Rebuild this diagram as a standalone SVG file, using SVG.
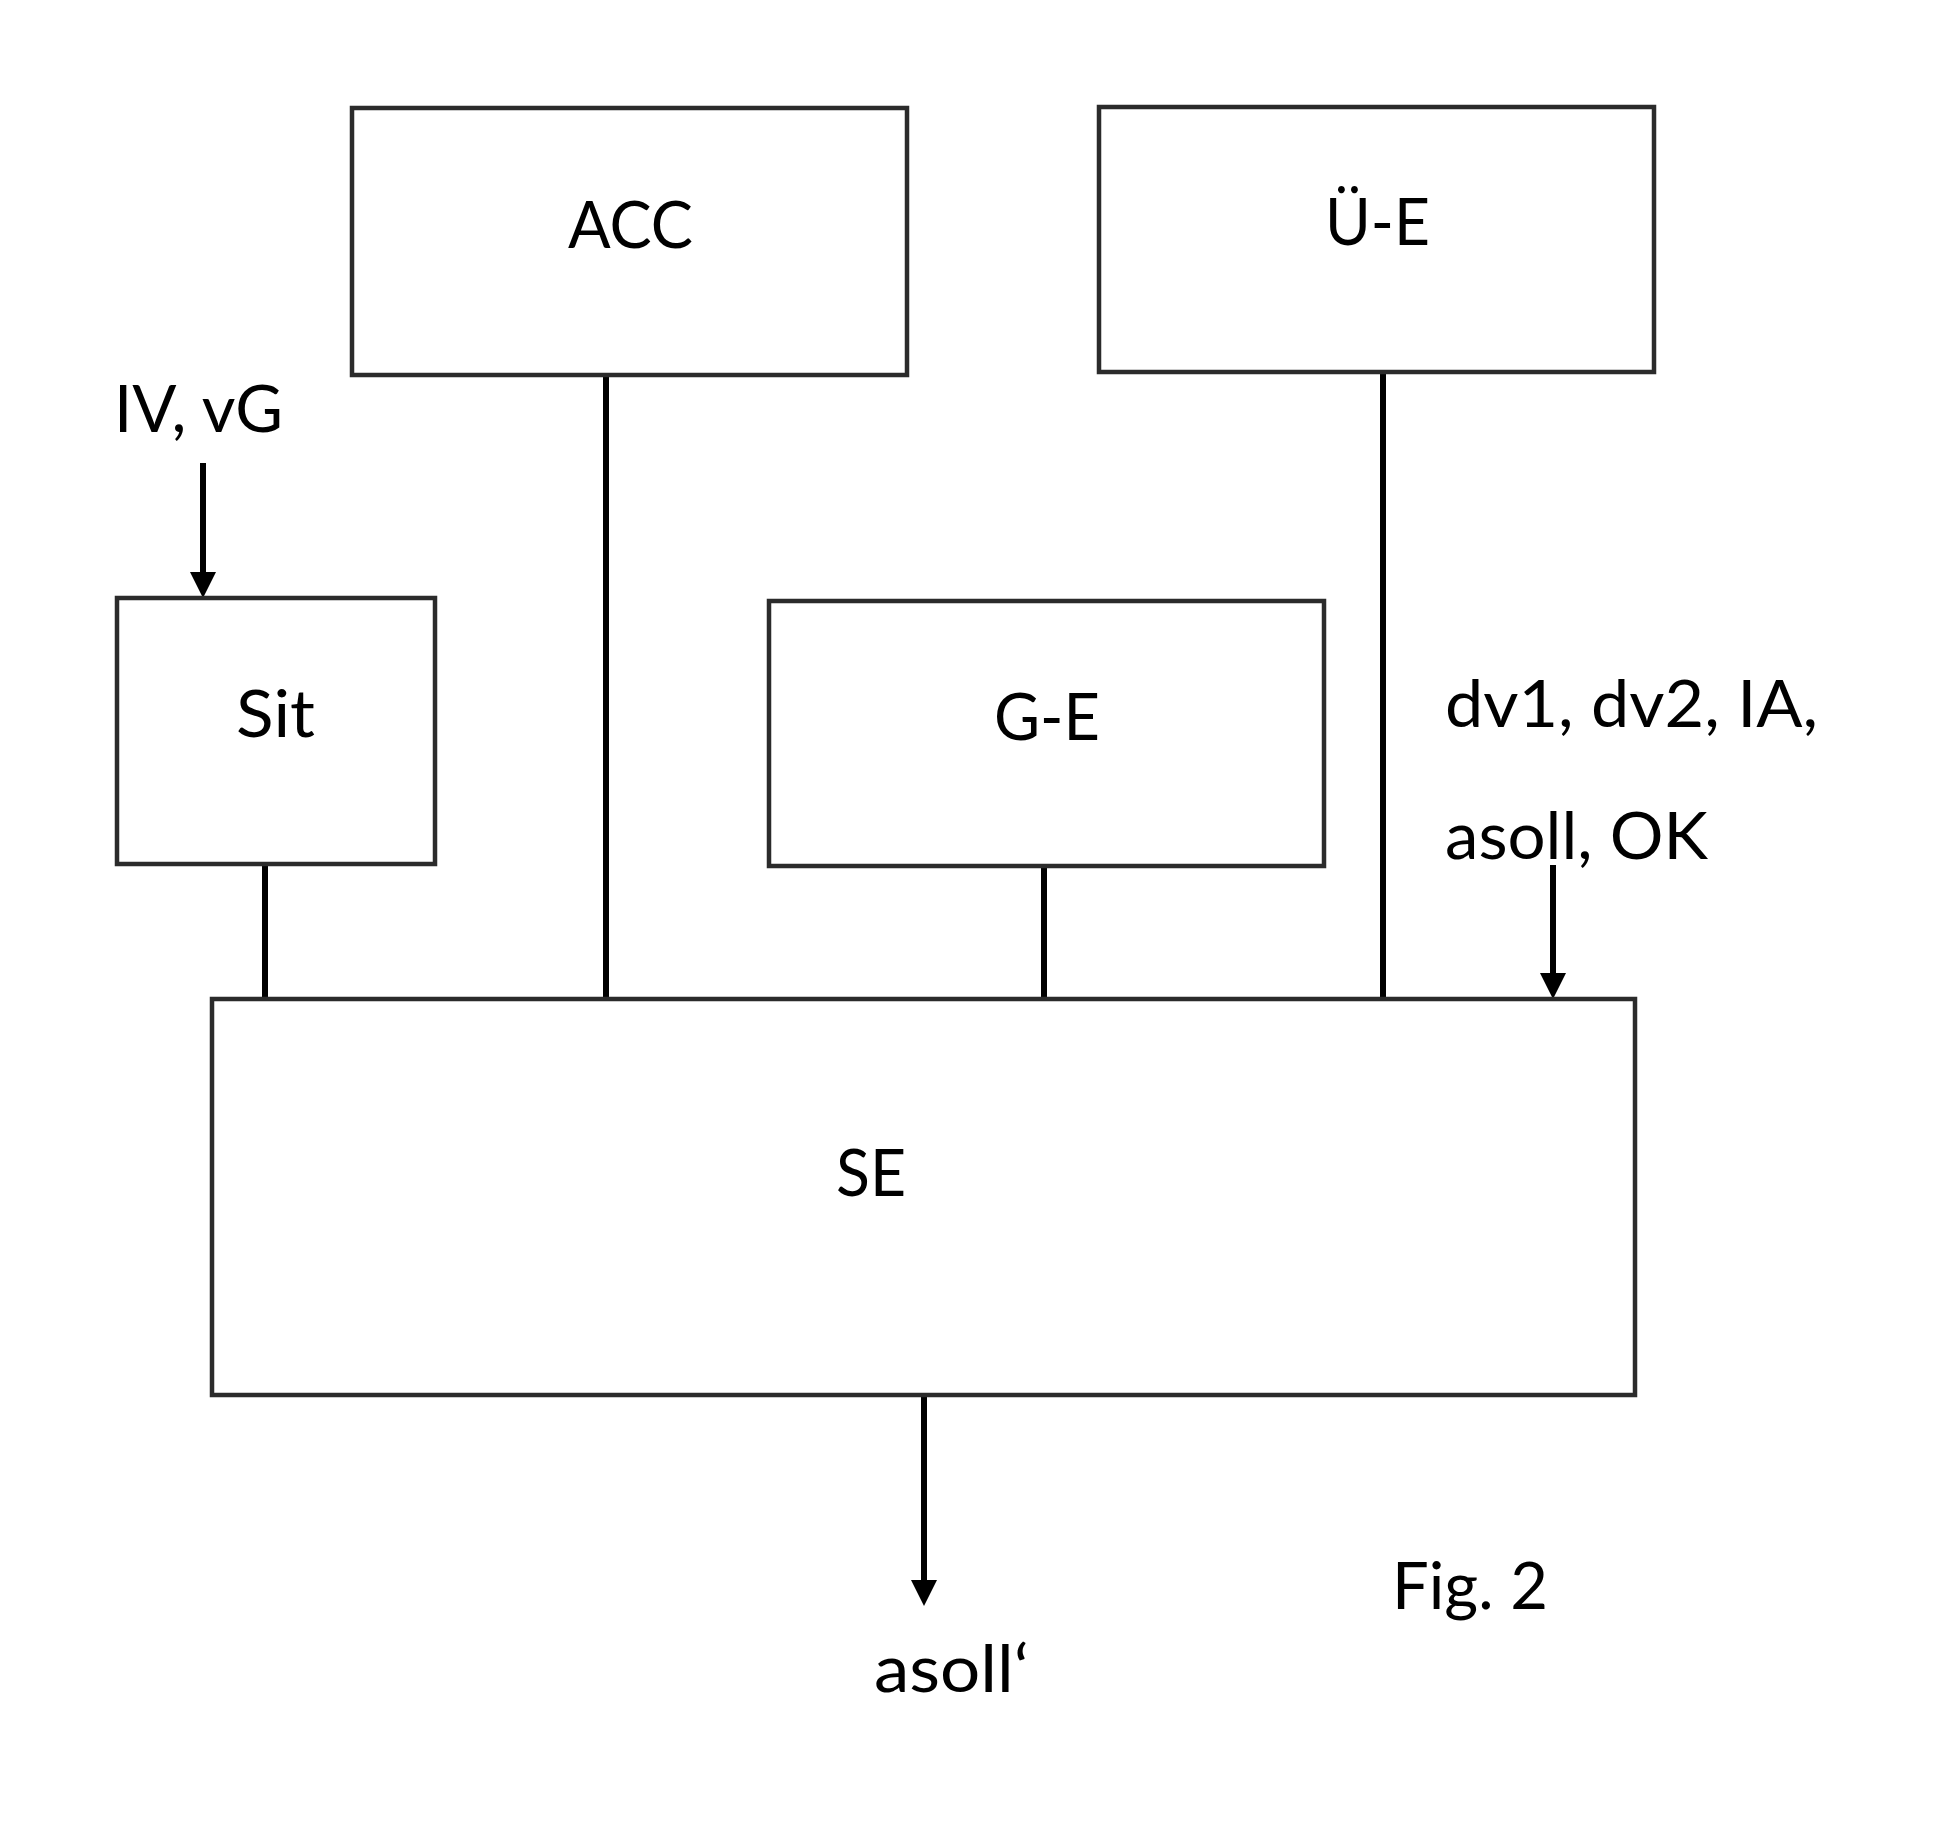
<svg xmlns="http://www.w3.org/2000/svg" width="1958" height="1844" viewBox="0 0 1958 1844">
<style>
.box{fill:#fff;stroke:#2b2b2b;stroke-width:4.5}
.ln{stroke:#000;stroke-width:6;fill:none}
.t{font-family:Lato,"Open Sans","Liberation Sans",sans-serif;font-size:66px;fill:#000}
</style>
<defs>
<marker id="ah" markerUnits="userSpaceOnUse" markerWidth="26" markerHeight="26" refX="6" refY="13" orient="auto">
<path d="M0,0 L26,13 L0,26 z" fill="#000"/>
</marker>
</defs>
<rect width="1958" height="1844" fill="#fff"/>
<g id="connectors">
<line class="ln" x1="203" y1="463" x2="203" y2="578" marker-end="url(#ah)"/>
<line class="ln" x1="265" y1="864" x2="265" y2="999"/>
<line class="ln" x1="606" y1="375" x2="606" y2="999"/>
<line class="ln" x1="1044" y1="866" x2="1044" y2="999"/>
<line class="ln" x1="1383" y1="372" x2="1383" y2="999"/>
<line class="ln" x1="1553" y1="865" x2="1553" y2="979" marker-end="url(#ah)"/>
<line class="ln" x1="924" y1="1395" x2="924" y2="1586" marker-end="url(#ah)"/>
</g>
<g id="node-acc">
<rect class="box" x="352" y="108" width="555" height="267"/>
<text class="t" x="568" y="248" textLength="125" lengthAdjust="spacingAndGlyphs">ACC</text>
</g>
<g id="node-ue">
<rect class="box" x="1099" y="107" width="555" height="265"/>
<text class="t" x="1325" y="245" textLength="105" lengthAdjust="spacingAndGlyphs">Ü-E</text>
</g>
<g id="node-sit">
<rect class="box" x="117" y="598" width="318" height="266"/>
<text class="t" x="236" y="737" textLength="79" lengthAdjust="spacingAndGlyphs">Sit</text>
</g>
<g id="node-ge">
<rect class="box" x="769" y="601" width="555" height="265"/>
<text class="t" x="994" y="740" textLength="106" lengthAdjust="spacingAndGlyphs">G-E</text>
</g>
<g id="node-se">
<rect class="box" x="212" y="999" width="1423" height="396"/>
<text class="t" x="836" y="1196" textLength="70" lengthAdjust="spacingAndGlyphs">SE</text>
</g>
<g id="labels">
<text class="t" x="114" y="432" textLength="169" lengthAdjust="spacingAndGlyphs">IV, vG</text>
<text class="t" x="1445" y="727" textLength="373" lengthAdjust="spacingAndGlyphs">dv1, dv2, IA,</text>
<text class="t" x="1445" y="859" textLength="263" lengthAdjust="spacingAndGlyphs">asoll, OK</text>
<text class="t" x="874" y="1692" textLength="155" lengthAdjust="spacingAndGlyphs">asoll‘</text>
<text class="t" x="1392" y="1609" textLength="156" lengthAdjust="spacingAndGlyphs">Fig. 2</text>
</g>
</svg>
